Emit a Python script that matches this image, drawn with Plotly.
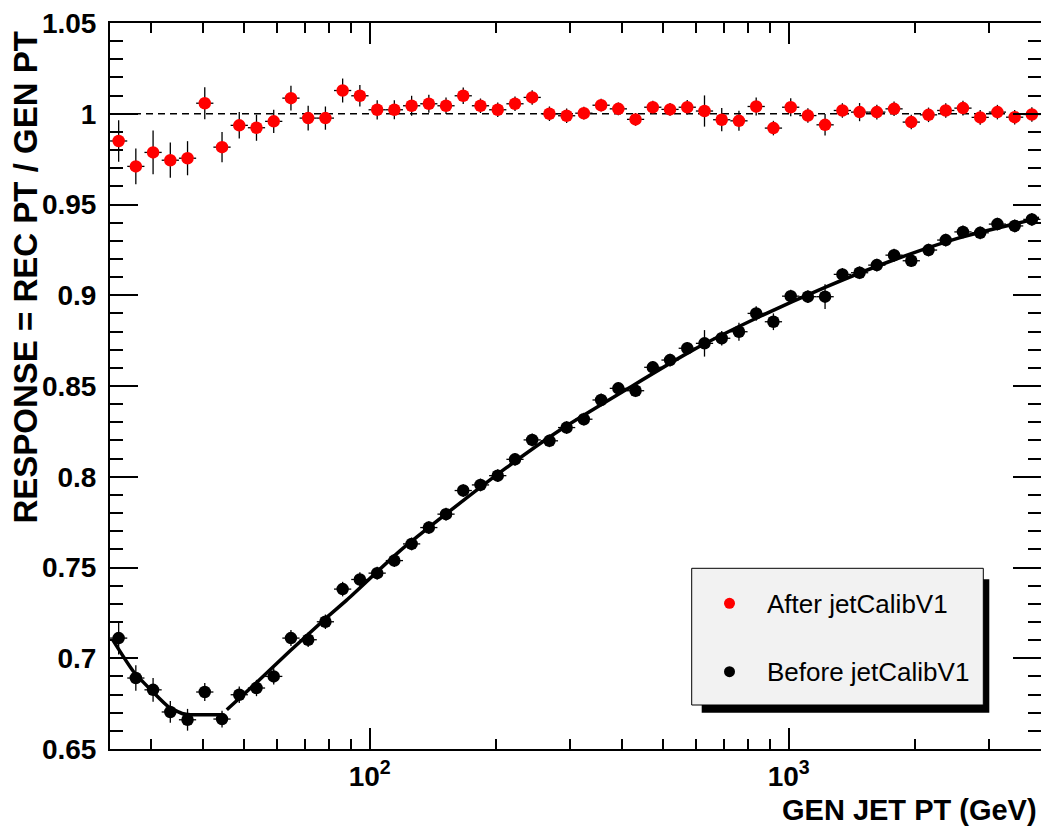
import numpy as np
import plotly.graph_objects as go

# ---------------- data ----------------
gen_pt = [25.17, 27.66, 30.41, 33.43, 36.75, 40.40, 44.42, 48.83, 53.68, 59.01,
          64.87, 71.31, 78.40, 86.18, 94.74, 104.2, 114.5, 125.9, 138.4, 152.1,
          167.2, 183.8, 202.1, 222.2, 244.2, 268.5, 295.1, 324.4, 356.7, 392.1,
          431.0, 473.8, 520.9, 572.6, 629.5, 692.0, 760.7, 836.3, 919.3, 1011,
          1111, 1221, 1343, 1476, 1623, 1784, 1961, 2156, 2370, 2605,
          2864, 3148, 3461, 3804]

resp_after = [0.985, 0.971, 0.9787, 0.9744, 0.9755, 1.0058, 0.9816, 0.9936, 0.9923, 0.9958,
              1.0086, 0.9976, 0.9976, 1.0128, 1.0099, 1.0022, 1.0022, 1.0044, 1.0055, 1.0044,
              1.0099, 1.0044, 1.0022, 1.0055, 1.009, 1.000, 0.9989, 1.0003, 1.0047, 1.0027,
              0.9969, 1.0036, 1.0024, 1.0036, 1.0015, 0.9967, 0.9961, 1.004, 0.9921, 1.0036,
              0.999, 0.9939, 1.0018, 1.0009, 1.0009, 1.0027, 0.9954, 0.9994, 1.0018, 1.0031,
              0.998, 1.0009, 0.9981, 0.9996]
err_after = [0.0114, 0.0099, 0.0121, 0.0097, 0.0094, 0.0088, 0.0083, 0.0073, 0.0072, 0.0064,
             0.0068, 0.0068, 0.0064, 0.0066, 0.0059, 0.0053, 0.0052, 0.0055, 0.0050, 0.0045,
             0.0045, 0.0040, 0.0040, 0.0040, 0.0040, 0.0040, 0.0040, 0.0035, 0.0035, 0.0035,
             0.0035, 0.0035, 0.0035, 0.0040, 0.0086, 0.0064, 0.0055, 0.0050, 0.0040, 0.0050,
             0.0040, 0.0059, 0.0040, 0.0050, 0.0040, 0.0040, 0.0040, 0.0040, 0.0040, 0.0040,
             0.0040, 0.0040, 0.0040, 0.0040]

resp_before = [0.7111, 0.6891, 0.6826, 0.6704, 0.6661, 0.6814, 0.6665, 0.6799, 0.6836, 0.6900,
               0.7111, 0.7102, 0.7201, 0.7381, 0.7434, 0.7469, 0.7538, 0.7630, 0.7720, 0.7794,
               0.7924, 0.7955, 0.8006, 0.8096, 0.8203, 0.8198, 0.8271, 0.8317, 0.8423, 0.8487,
               0.8474, 0.8603, 0.8643, 0.8708, 0.8735, 0.8763, 0.8799, 0.8900, 0.8854, 0.8995,
               0.8992, 0.8992, 0.9115, 0.9124, 0.9166, 0.9221, 0.9190, 0.9249, 0.9304, 0.9349,
               0.9344, 0.9392, 0.9382, 0.9418]
err_before = [0.0090, 0.0070, 0.0065, 0.0060, 0.0060, 0.0050, 0.0046, 0.0045, 0.0045, 0.0045,
              0.0044, 0.0040, 0.0040, 0.0040, 0.0040, 0.0035, 0.0035, 0.0035, 0.0035, 0.0035,
              0.0035, 0.0035, 0.0035, 0.0035, 0.0035, 0.0035, 0.0035, 0.0035, 0.0035, 0.0035,
              0.0035, 0.0035, 0.0035, 0.0035, 0.0073, 0.0040, 0.0050, 0.0040, 0.0046, 0.0035,
              0.0035, 0.0068, 0.0035, 0.0035, 0.0035, 0.0035, 0.0035, 0.0035, 0.0035, 0.0035,
              0.0035, 0.0035, 0.0035, 0.0035]

# fitted response curve (two pieces, gap between them)
fit_pt = [24.3, 27.3, 30.3, 33.0, 35.9, 37.3, 44.4, None,
          45.6, 53.8, 64.5, 79.0, 88.1, 117.9, 155.1, 212.0, 283.5, 409.2, 587.5,
          848.4, 1225, 1759, 2540, 3959]
fit_resp = [0.7105, 0.6927, 0.6817, 0.6735, 0.6694, 0.6689, 0.6689, None,
            0.6716, 0.6868, 0.7040, 0.7225, 0.7320, 0.7590, 0.7810, 0.8050, 0.8255, 0.8480, 0.8695,
            0.8880, 0.9045, 0.9190, 0.9315, 0.9425]

y_ticks = [0.65, 0.70, 0.75, 0.80, 0.85, 0.90, 0.95, 1.00, 1.05]
y_ticktext = ["0.65", "0.7", "0.75", "0.8", "0.85", "0.9", "0.95", "1", "1.05"]
x_ticks = [100, 1000]
x_ticktext = ["10<sup>2</sup>", "10<sup>3</sup>"]
x_minor = [30, 40, 50, 60, 70, 80, 90, 200, 300, 400, 500, 600, 700, 800, 900, 2000, 3000]

label_after = "After jetCalibV1"
label_before = "Before jetCalibV1"
x_title = "GEN JET PT (GeV)"
y_title = "RESPONSE = REC PT / GEN PT"

# ---------------- horizontal error bars = log bin half widths ----------------
lx = np.log10(np.array(gen_pt, dtype=float))
mid = (lx[:-1] + lx[1:]) / 2
lo = np.concatenate([[2 * lx[0] - mid[0]], mid])
hi = np.concatenate([mid, [2 * lx[-1] - mid[-1]]])
xv = 10 ** lx
ex_minus = (xv - 10 ** lo).tolist()
ex_plus = (10 ** hi - xv).tolist()

# ---------------- layout geometry ----------------
W, H = 1041, 829
L, R, T, B = 110, 0, 23, 80
PW, PH = W - L - R, H - T - B


def px_x(px):
    return (px - L) / PW


def px_y(py):
    return (H - B - py) / PH


FONT = "Liberation Sans, Arial, Helvetica, sans-serif"

fig = go.Figure()

fig.add_trace(go.Scatter(
    x=fit_pt, y=fit_resp, mode="lines",
    line=dict(color="black", width=3.5, shape="spline", smoothing=0.6),
    connectgaps=False, showlegend=False, hoverinfo="skip"))

fig.add_trace(go.Scatter(
    x=gen_pt, y=resp_before, mode="markers", name=label_before,
    marker=dict(color="black", size=12.5, line=dict(width=0)),
    error_x=dict(type="data", symmetric=False, array=ex_plus, arrayminus=ex_minus,
                 color="black", thickness=1.3, width=0),
    error_y=dict(type="data", array=err_before, color="black", thickness=1.3, width=0),
    showlegend=False))

fig.add_trace(go.Scatter(
    x=gen_pt, y=resp_after, mode="markers", name=label_after,
    marker=dict(color="#ff0000", size=12.5, line=dict(width=0)),
    error_x=dict(type="data", symmetric=False, array=ex_plus, arrayminus=ex_minus,
                 color="black", thickness=1.3, width=0),
    error_y=dict(type="data", array=err_after, color="black", thickness=1.3, width=0),
    showlegend=False))

shapes = [
    # dashed reference line at response = 1
    dict(type="line", xref="paper", yref="y", x0=0, x1=1, y0=1, y1=1,
         line=dict(color="black", width=1.5, dash="7px,5px"), layer="below"),
    # legend shadow and box
    dict(type="rect", xref="paper", yref="paper",
         x0=px_x(701.7), x1=px_x(989.3), y0=px_y(712.7), y1=px_y(579.3),
         fillcolor="black", line=dict(width=0)),
    dict(type="rect", xref="paper", yref="paper",
         x0=px_x(691.7), x1=px_x(983.3), y0=px_y(705), y1=px_y(568.3),
         fillcolor="#f2f2f2", line=dict(color="black", width=1)),
    # legend symbols
    dict(type="circle", xref="paper", yref="paper", xsizemode="pixel", ysizemode="pixel",
         xanchor=px_x(729.5), yanchor=px_y(603.3), x0=-5.5, x1=5.5, y0=-5.5, y1=5.5,
         fillcolor="#ff0000", line=dict(width=0)),
    dict(type="circle", xref="paper", yref="paper", xsizemode="pixel", ysizemode="pixel",
         xanchor=px_x(729.5), yanchor=px_y(671.7), x0=-5.5, x1=5.5, y0=-5.5, y1=5.5,
         fillcolor="black", line=dict(width=0)),
]

annotations = [
    dict(text=label_after, xref="paper", yref="paper", x=px_x(765), y=px_y(604),
         xanchor="left", yanchor="middle", showarrow=False,
         font=dict(family=FONT, size=26, color="black")),
    dict(text=label_before, xref="paper", yref="paper", x=px_x(765), y=px_y(672),
         xanchor="left", yanchor="middle", showarrow=False,
         font=dict(family=FONT, size=26, color="black")),
    dict(text=x_title, xref="paper", yref="paper", x=px_x(1039), y=px_y(810),
         xanchor="right", yanchor="middle", showarrow=False,
         font=dict(family=FONT, size=29, color="black", weight="bold")),
    dict(text=y_title, xref="paper", yref="paper", x=px_x(25), y=px_y(277.5),
         xanchor="center", yanchor="middle", textangle=-90, showarrow=False,
         font=dict(family=FONT, size=33, color="black", weight="bold")),
]

fig.update_layout(
    width=W, height=H,
    margin=dict(l=L, r=R, t=T, b=B, autoexpand=False),
    paper_bgcolor="white", plot_bgcolor="white",
    showlegend=False,
    shapes=shapes, annotations=annotations,
    xaxis=dict(
        type="log", range=[np.log10(24), np.log10(4000)],
        tickmode="array", tickvals=x_ticks, ticktext=x_ticktext,
        ticks="inside", ticklen=21, tickwidth=1.5, tickcolor="black",
        showline=True, linecolor="black", linewidth=2, mirror="ticks",
        showgrid=False, zeroline=False, automargin=False,
        tickfont=dict(family=FONT, size=28, color="black", weight="bold"),
        ticklabelstandoff=1,
        minor=dict(tickmode="array", tickvals=x_minor, ticks="inside", ticklen=10,
                   tickwidth=1.5, tickcolor="black", showgrid=False),
    ),
    yaxis=dict(
        range=[0.65, 1.05],
        tickmode="array", tickvals=y_ticks, ticktext=y_ticktext,
        ticks="inside", ticklen=28, tickwidth=1.5, tickcolor="black",
        showline=True, linecolor="black", linewidth=2, mirror="ticks",
        showgrid=False, zeroline=False, automargin=False,
        tickfont=dict(family=FONT, size=28, color="black", weight="bold"),
        ticklabelstandoff=6,
        minor=dict(tickmode="linear", tick0=0.65, dtick=0.01, ticks="inside", ticklen=13,
                   tickwidth=1.5, tickcolor="black", showgrid=False),
    ),
)

fig.write_html("out.html")
